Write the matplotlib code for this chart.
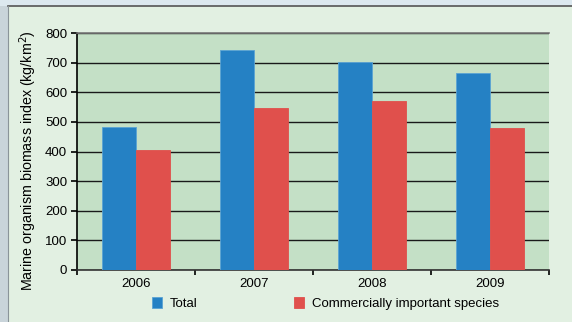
import numpy as np
import matplotlib.pyplot as plt
from matplotlib.patches import Rectangle

# dados
anos = ["2006", "2007", "2008", "2009"]
total = [484, 742, 701, 665]
comercial = [405, 547, 571, 478]

plt.rcParams['font.family'] = ['Liberation Sans', 'DejaVu Sans']

fig = plt.figure(figsize=(5.72, 3.22), dpi=100)
fig.patch.set_facecolor("#dce8ef")

# painel de fundo
fig.patches.append(Rectangle((8 / 572, 0), 1, (322 - 6) / 322, transform=fig.transFigure,
                             facecolor="#e2f0e2", edgecolor="none", zorder=-10))
fig.patches.append(Rectangle((0, 0), 8 / 572, (322 - 6) / 322, transform=fig.transFigure,
                             facecolor="#c9d4da", edgecolor="none", zorder=-10))
fig.add_artist(plt.Line2D([8 / 572, 1], [(322 - 5.5) / 322] * 2, transform=fig.transFigure,
                          color="#555555", lw=1.2, zorder=-5))
fig.add_artist(plt.Line2D([7.5 / 572] * 2, [0, (322 - 5.5) / 322], transform=fig.transFigure,
                          color="#8a9499", lw=0.8, zorder=-5))

ax = fig.add_axes([77 / 572, 52 / 322, 472 / 572, 237 / 322])
ax.set_facecolor("#c4e0c6")

x = np.arange(len(anos))
w = 0.285
ax.bar(x - w / 2, total, w, color="#2581c4", edgecolor="#5aa3d4", lw=0.6,
       label="Total", zorder=3)
ax.bar(x + w / 2, comercial, w, color="#e0504c", edgecolor="#e0504c", lw=0.6,
       label="Commercially important species", zorder=3)

ax.set_xlim(-0.5, 3.5)
ax.set_ylim(0, 800)
ax.set_yticks(range(0, 801, 100))
ax.yaxis.grid(True, color="#1a1a1a", lw=1.0, zorder=1)
ax.set_axisbelow(True)

ax.set_xticks(x)
ax.set_xticklabels(anos)
ax.set_xticks(np.arange(-0.5, 3.6, 1), minor=True)
ax.tick_params(axis="x", which="major", length=0, pad=6, labelsize=9.5)
ax.tick_params(axis="x", which="minor", length=3.5, width=1.2, direction="out")
ax.tick_params(axis="y", length=4, width=1.2, labelsize=9.5, pad=3)

ax.spines["right"].set_visible(False)
ax.spines["top"].set_color("#777777")
ax.spines["top"].set_linewidth(1.2)
ax.spines["left"].set_linewidth(1.2)
ax.spines["bottom"].set_linewidth(1.2)
ax.spines["bottom"].set_color("#333333")

ax.set_ylabel("Marine organism biomass index (kg/km$^2$)", fontsize=10.3)
ax.yaxis.set_label_coords(-0.081, 0.46)

fig.legend(loc="lower left", bbox_to_anchor=(140 / 572, 0.0), ncol=2, frameon=False,
           fontsize=9.5, handlelength=0.8, handleheight=0.8, columnspacing=7.3,
           handletextpad=0.55)

fig.savefig("out.png", dpi=100, facecolor=fig.get_facecolor())
